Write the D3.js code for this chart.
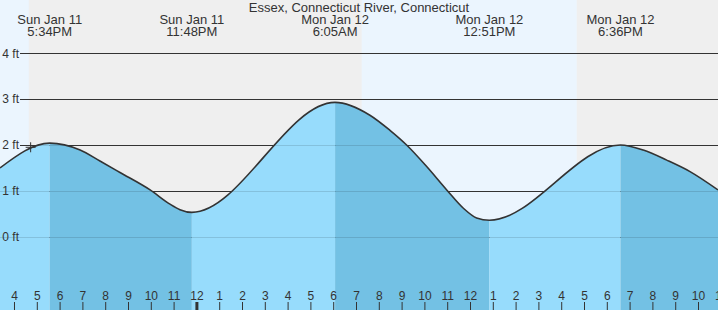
<!DOCTYPE html>
<html>
<head>
<meta charset="utf-8">
<script src="https://cdn.jsdelivr.net/npm/d3@7"></script>
<style>
  body { margin: 0; background: #fff; }
  svg { display: block; font-family: "Liberation Sans", Arial, sans-serif; }
</style>
</head>
<body>
<figure id="tide" style="margin:0"></figure>
<script>
// chart data, hours counted from Sun Jan 11 00:00
const title = "Essex, Connecticut River, Connecticut";
const eventDays = ["Sun Jan 11", "Sun Jan 11", "Mon Jan 12", "Mon Jan 12", "Mon Jan 12"];
const eventTimes = ["5:34PM", "11:48PM", "6:05AM", "12:51PM", "6:36PM"];
const eventHours = [17.567, 23.8, 30.083, 36.85, 42.6];
const eventHeights = [2.04, 0.53, 2.93, 0.36, 2.0];
// water level (ft)
const tideHours = [15.386, 17.567, 18.9, 19.77, 20.65, 21.97, 22.84, 23.28, 23.8,
  30.083, 31.61, 32.49, 33.22, 34.1, 34.98, 35.71, 36.29, 36.85,
  42.6, 43.6, 44.63, 45.65, 46.877];
const tideHeights = [1.5, 2.04, 1.89, 1.65, 1.4, 1.02, 0.71, 0.59, 0.53,
  2.93, 2.65, 2.32, 2.0, 1.53, 1.02, 0.62, 0.41, 0.36,
  2.0, 1.89, 1.67, 1.42, 1.02];
const sunrise = [7.22, 31.25];
const sunset = [16.65, 40.68];
const heightTicks = [0, 1, 2, 3, 4];
const hourTicks = d3.range(16, 48);
const nowHour = 16.73;
const nowHeight = 1.95;

const width = 718, height = 310;

const svg = d3.select("figure#tide")
  .append("svg")
  .attr("width", width)
  .attr("height", height);

const x = d3.scaleLinear().domain([tideHours[0], tideHours[tideHours.length - 1]]).range([0, width]);
const y = d3.scaleLinear().domain([0, 4]).range([236.7, 53.3]);

// night / day background
svg.append("rect")
  .attr("width", width).attr("height", height)
  .attr("fill", "#efefef");
svg.selectAll("rect.day")
  .data(sunrise)
  .enter()
  .append("rect")
  .attr("class", "day")
  .attr("x", (d) => Math.max(0, x(d)))
  .attr("width", (d, i) => x(sunset[i]) - Math.max(0, x(d)))
  .attr("y", 0)
  .attr("height", height)
  .attr("fill", "#ebf5fe");

// dark grid lines
svg.append("g")
  .attr("transform", "translate(" + width + ",0)")
  .call(d3.axisLeft(y).tickValues(heightTicks).tickSize(width - 20).tickFormat(""))
  .call(g => g.select(".domain").remove())
  .call(g => g.selectAll("line").attr("stroke", "#333").attr("shape-rendering", "crispEdges"));

const points = tideHours.map((h, i) => ({h: h, v: tideHeights[i]}));

const area = d3.area()
  .x(d => x(d.h))
  .y0(height)
  .y1(d => y(d.v))
  .curve(d3.curveMonotoneX);
const line = d3.line()
  .x(d => x(d.h))
  .y(d => y(d.v))
  .curve(d3.curveMonotoneX);

svg.append("clipPath")
  .attr("id", "water")
  .append("path")
  .attr("d", area(points));

const water = svg.append("g").attr("clip-path", "url(#water)");

// rising = light, falling = dark, split at the highs and lows
const bounds = [tideHours[0]].concat(eventHours, [tideHours[tideHours.length - 1]]);
const levels = [tideHeights[0]].concat(eventHeights, [tideHeights[tideHeights.length - 1]]);
water.selectAll("rect")
  .data(bounds.slice(0, -1))
  .enter()
  .append("rect")
  .attr("x", d => x(d))
  .attr("width", (d, i) => x(bounds[i + 1]) - x(d))
  .attr("y", 0)
  .attr("height", height)
  .attr("fill", (d, i) => levels[i + 1] > levels[i] ? "#97dcfc" : "#73c1e4");

water.append("g")
  .attr("transform", "translate(" + width + ",0)")
  .call(d3.axisLeft(y).tickValues(heightTicks).tickSize(width).tickFormat(""))
  .call(g => g.select(".domain").remove())
  .call(g => g.selectAll("line").attr("stroke", "#000").attr("stroke-opacity", 0.12).attr("shape-rendering", "crispEdges"));

svg.append("path")
  .attr("d", line(points))
  .attr("fill", "none")
  .attr("stroke", "#333")
  .attr("stroke-width", 1.6);

// height labels
svg.append("g")
  .attr("transform", "translate(20,0)")
  .call(d3.axisLeft(y).tickValues(heightTicks).tickSize(0).tickPadding(1).tickFormat(d => d + " ft"))
  .call(g => g.select(".domain").remove())
  .call(g => g.selectAll("text").attr("fill", "#333").attr("font-size", 12).attr("font-family", null));

// hour axis
const xAxis = svg.append("g")
  .attr("transform", "translate(0," + height + ")")
  .call(d3.axisTop(x).tickValues(hourTicks).tickSize(8).tickPadding(2).tickFormat(d => (d % 12) || 12))
  .call(g => g.select(".domain").remove());
xAxis.selectAll("line").attr("stroke", "#333");
xAxis.selectAll("text").attr("fill", "#333").attr("font-size", 12).attr("font-family", null);
xAxis.selectAll(".tick").filter(d => d % 24 === 0)
  .select("line").attr("stroke-width", 3);

// current time marker
const now = svg.append("g")
  .attr("transform", "translate(" + x(nowHour) + "," + y(nowHeight) + ")")
  .attr("stroke", "#333");
now.append("line").attr("x1", -5).attr("x2", 5);
now.append("line").attr("y1", -5).attr("y2", 5);

// title and tide event labels
svg.append("text")
  .attr("x", width / 2)
  .attr("y", 11.5)
  .attr("text-anchor", "middle")
  .attr("font-size", 13)
  .attr("fill", "#333")
  .text(title);

const labels = svg.selectAll("text.event")
  .data(eventHours)
  .enter()
  .append("text")
  .attr("class", "event")
  .attr("text-anchor", "middle")
  .attr("font-size", 13)
  .attr("fill", "#333");
labels.append("tspan")
  .attr("x", d => x(d))
  .attr("y", 24)
  .text((d, i) => eventDays[i]);
labels.append("tspan")
  .attr("x", d => x(d))
  .attr("y", 36)
  .text((d, i) => eventTimes[i]);
</script>
</body>
</html>
